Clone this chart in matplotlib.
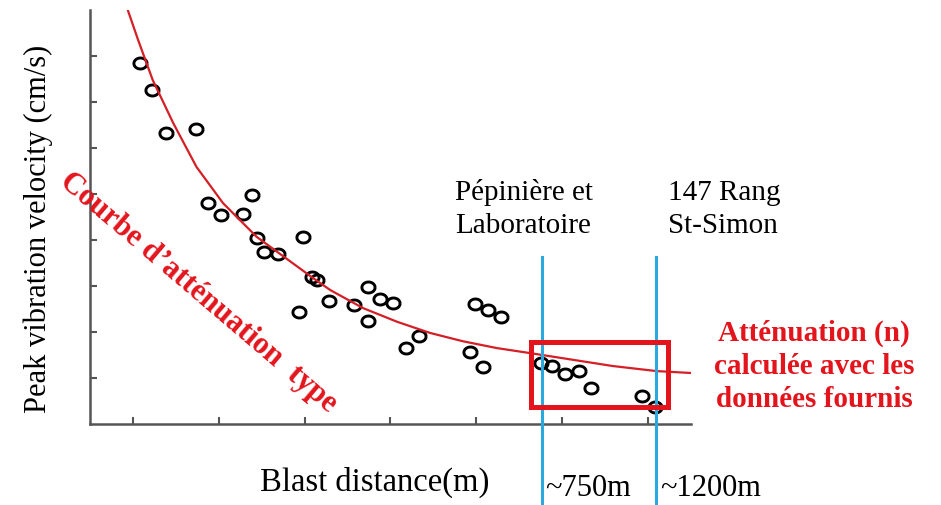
import numpy as np
import matplotlib
matplotlib.use("Agg")
import matplotlib.pyplot as plt
from matplotlib.patches import Rectangle

# distance (axis units, no tick labels in original) / peak vibration velocity
dist = [0.58, 0.72, 0.88, 1.23, 1.38, 1.53, 1.78, 1.89, 1.94, 2.03, 2.19, 2.48,
        2.59, 2.64, 2.43, 2.78, 3.08, 3.24, 3.24, 3.38, 3.53, 3.68, 3.83, 4.48,
        4.63, 4.79, 4.43, 4.58, 5.25, 5.38, 5.53, 5.69, 5.83, 6.43, 6.58]
ppv = [7.84, 7.26, 6.32, 6.41, 4.81, 4.54, 4.57, 4.98, 4.05, 3.73, 3.70, 4.07,
       3.20, 3.13, 2.44, 2.68, 2.59, 2.97, 2.25, 2.71, 2.63, 1.66, 1.91, 2.61,
       2.48, 2.33, 1.57, 1.23, 1.32, 1.27, 1.09, 1.15, 0.78, 0.61, 0.36]

# courbe d'atténuation
curve_x = [0.44, 0.56, 0.73, 0.97, 1.24, 1.55, 1.94, 2.60, 2.80, 3.18, 3.58,
           3.96, 4.34, 4.74, 5.13, 6.09, 6.60, 6.99]
curve_y = [9.0, 8.35, 7.48, 6.54, 5.59, 4.80, 4.07, 3.17, 2.91, 2.52, 2.22,
           1.98, 1.80, 1.65, 1.54, 1.26, 1.15, 1.11]

site_x = [5.26, 6.59]
site_names = ["Pépinière et\nLaboratoire", "147 Rang\nSt-Simon"]
site_dist = ["~750m", "~1200m"]

x_ticks = [0.5, 1.5, 2.5, 3.5, 4.5, 5.5, 6.5]
y_ticks = [1, 2, 3, 4, 5, 6, 7, 8]

W, H = 941, 505
SERIF = "Liberation Serif"
RED = "#e3141c"


def fx(px):
    return px / W


def fy(py):
    return 1 - py / H


fig = plt.figure(figsize=(W / 100, H / 100), dpi=100)
ax = fig.add_axes([fx(90), fy(424), (691 - 90) / W, (424 - 10) / H])

# marqueur légèrement elliptique
t = np.linspace(0, 2 * np.pi, 40)
ell = np.column_stack([1.2 * np.cos(t), np.sin(t)])

ax.plot(dist, ppv, linestyle="none", marker=ell, markersize=9.5,
        mfc="none", mec="black", mew=2.1, zorder=3)
ax.plot(curve_x, curve_y, color="#d41f26", lw=1.6, zorder=4)

for x in site_x:
    ax.axvline(x, ymin=-0.2, ymax=(424 - 257) / 414, color="#2aa8e0",
               lw=2.2, clip_on=False, zorder=5)

ax.add_patch(Rectangle((5.14, 0.38), 6.735 - 5.14, 1.79 - 0.38, fill=False,
                       ec=RED, lw=3.6, zorder=6, clip_on=False))

ax.set_xlim(0, 7)
ax.set_ylim(0, 9)
ax.set_xticks(x_ticks)
ax.set_yticks(y_ticks)
ax.set_xticklabels([])
ax.set_yticklabels([])
ax.tick_params(direction="in", length=5, width=1.5, color="#555555")
for s in ["top", "right"]:
    ax.spines[s].set_visible(False)
for s in ["left", "bottom"]:
    ax.spines[s].set_color("#555555")
    ax.spines[s].set_linewidth(1.8)

fig.text(fx(38), fy(229), "Peak vibration velocity (cm/s)", rotation=90,
         ha="center", va="center", family=SERIF, fontsize=22)
fig.text(fx(375), fy(491), "Blast distance(m)", ha="center", va="baseline",
         family=SERIF, fontsize=23.5)

# noms des sites
for left, name in zip([455, 668], site_names):
    l1, l2 = name.split("\n")
    fig.text(fx(left), fy(200), l1, ha="left", va="baseline", family=SERIF, fontsize=21)
    fig.text(fx(left), fy(233), l2, ha="left", va="baseline", family=SERIF, fontsize=21)

for left, d in zip([545, 660], site_dist):
    fig.text(fx(left), fy(496), d, ha="left", va="baseline", family=SERIF, fontsize=22)

red_lines = ["Atténuation (n)", "calculée avec les", "données fournis"]
for py, line in zip([341, 374, 407], red_lines):
    fig.text(fx(814), fy(py), line, ha="center", va="baseline", family=SERIF,
             fontsize=21, fontweight="bold", color=RED)

fig.text(fx(198), fy(293), "Courbe d\u2019atténuation  type", rotation=-40.4,
         rotation_mode="anchor", ha="center", va="center", family=SERIF,
         fontsize=22, fontweight="bold", color=RED)

fig.savefig("out.png", dpi=100)
